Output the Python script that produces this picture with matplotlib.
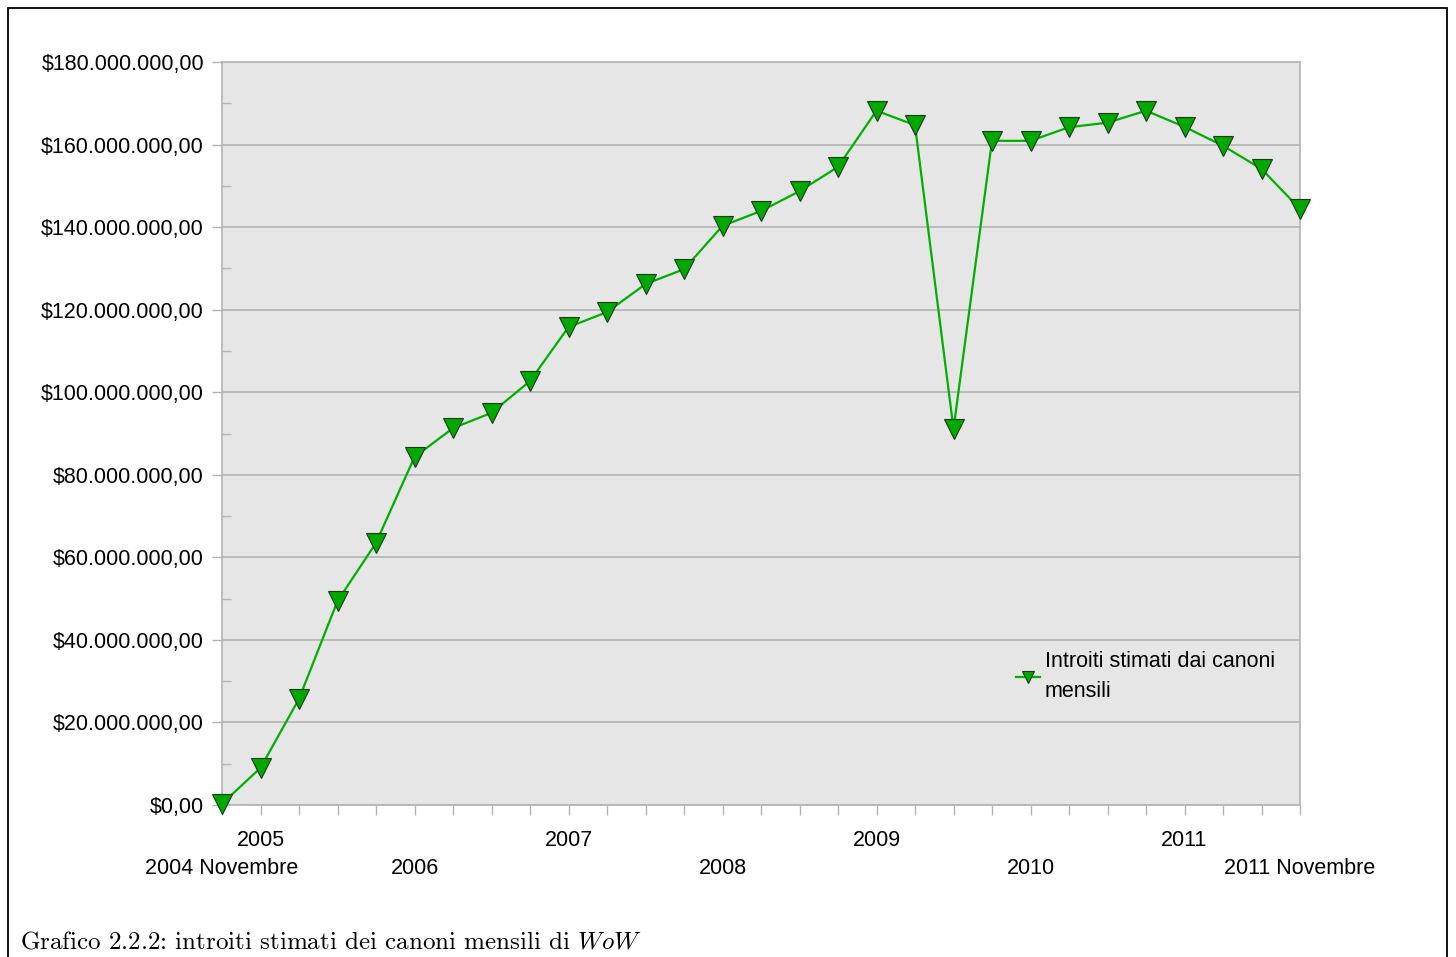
#Purpose: recreate the chart of estimated monthly subscription income of WoW

import numpy as np
import matplotlib
matplotlib.use("Agg")
from matplotlib import pyplot as plt
from matplotlib.patches import Rectangle
from matplotlib.ticker import FuncFormatter, MultipleLocator, FixedLocator

plt.rcParams['font.family'] = ['Liberation Sans', 'DejaVu Sans']
plt.rcParams['mathtext.fontset'] = 'cm'

#data: quarterly points from November 2004 to November 2011
x_labels = ["2004 Novembre", "2005", "", "", "", "2006", "", "", "", "2007", "", "", "",
            "2008", "", "", "", "2009", "", "", "", "2010", "", "", "", "2011", "", "",
            "2011 Novembre"]
lower_row = ["2004 Novembre", "2006", "2008", "2010", "2011 Novembre"]
introiti = [0.3, 9.0, 25.7, 49.4, 63.5, 84.3, 91.3, 95.0, 102.7, 115.8, 119.4, 126.2,
            129.8, 140.3, 143.9, 148.7, 154.6, 168.2, 164.7, 91.1, 160.9, 160.9, 164.2,
            165.3, 168.2, 164.3, 159.7, 154.1, 144.4]
series_name = "Introiti stimati dai canoni\nmensili"
caption = r"Grafico 2.2.2: introiti stimati dei canoni mensili di $\mathit{WoW}$"

W, H = 1456, 957
fig = plt.figure(figsize=(W / 100, H / 100), dpi=100)
ax = fig.add_axes([222 / W, 1 - 805 / H, (1300 - 222) / W, (805 - 62) / H])
ax.set_facecolor('#e6e6e6')

xs = np.arange(len(introiti))
vals = np.array(introiti) * 1e6
ax.plot(xs, vals, color='#00b000', lw=1.6, marker='v', markersize=14,
        markerfacecolor='#00a800', markeredgecolor='#1a3a1a', markeredgewidth=0.8,
        clip_on=False, zorder=3, label=series_name)

ax.set_xlim(0, len(introiti) - 1)
ax.set_ylim(0, 180e6)

#y axis: major ticks out, minor ticks in
ax.yaxis.set_major_locator(MultipleLocator(20e6))
ax.yaxis.set_minor_locator(MultipleLocator(10e6))
def money(v, pos):
    s = f"{v:,.2f}".replace(",", "X").replace(".", ",").replace("X", ".")
    return "$" + s
ax.yaxis.set_major_formatter(FuncFormatter(money))
ax.tick_params(axis='y', which='major', direction='out', length=7, width=1,
               color='#b3b3b3', labelsize=15.5, pad=6)
ax.tick_params(axis='y', which='minor', direction='in', length=6.5, width=1,
               color='#b3b3b3')
ax.grid(axis='y', which='major', color='#b3b3b3', lw=1.2)
ax.set_axisbelow(True)

#x axis: upper row on major ticks, lower row on minor ticks (no marks)
ax.set_xticks(xs)
ax.set_xticklabels([l if l not in lower_row else "" for l in x_labels])
low_pos = [i for i, l in enumerate(x_labels) if l in lower_row]
ax.xaxis.remove_overlapping_locs = False
ax.xaxis.set_minor_locator(FixedLocator(low_pos))
ax.set_xticks(low_pos, [x_labels[i] for i in low_pos], minor=True)
ax.tick_params(axis='x', which='major', direction='out', length=7, width=1,
               color='#b3b3b3', labelsize=15.5, pad=11)
ax.tick_params(axis='x', which='minor', length=0, labelsize=15.5, pad=38)

for sp in ax.spines.values():
    sp.set_color('#b3b3b3')
    sp.set_linewidth(1.2)

leg = ax.legend(loc='upper left', bbox_to_anchor=(1016 / W, 1 - 651 / H),
                bbox_transform=fig.transFigure, frameon=False, fontsize=15.5,
                markerscale=0.6, handlelength=1.1, handletextpad=0.25,
                borderpad=0, borderaxespad=0)
for t in leg.get_texts():
    t.set_linespacing(1.55)

#outer frame and caption
fig.patches.append(Rectangle((8 / W, -0.05), (1447 - 8) / W, 1.05 - 8 / H,
                             transform=fig.transFigure, fill=False,
                             edgecolor='black', lw=1.3))
fig.text(20 / W, 1 - 942 / H, caption, family='cmr10', fontsize=18, va='center')

fig.savefig("out.png", dpi=100)
